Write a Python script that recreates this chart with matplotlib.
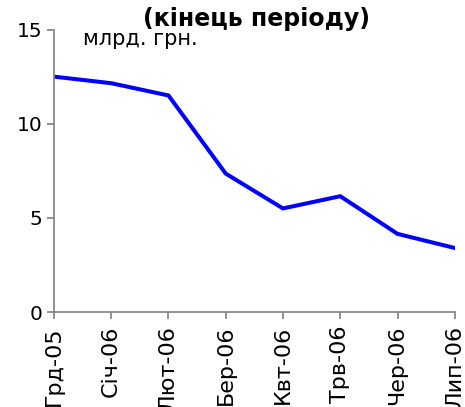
import matplotlib.pyplot as plt

# дані (кінець періоду), млрд. грн.
mitsyatsi = ["Грд-05", "Січ-06", "Лют-06", "Бер-06", "Квт-06", "Трв-06", "Чер-06", "Лип-06"]
znachennya = [12.5, 12.15, 11.5, 7.35, 5.5, 6.15, 4.15, 3.4]

plt.rcParams['font.family'] = ['DejaVu Sans']

fig = plt.figure(figsize=(4.65, 4.07), dpi=100)
ax = fig.add_axes([0.116, 0.2334, 0.862, 0.694])

x = list(range(len(mitsyatsi)))
ax.plot(x, znachennya, color="#0000FF", linewidth=2.9, solid_joinstyle="miter")

ax.set_xlim(0, len(mitsyatsi) - 1)
ax.set_ylim(0, 15)
ax.set_yticks([0, 5, 10, 15])
ax.set_xticks(x)
ax.set_xticklabels(mitsyatsi, rotation=90, va="top", ha="center")

for s in ["top", "right"]:
    ax.spines[s].set_visible(False)
for s in ["left", "bottom"]:
    ax.spines[s].set_color("#808080")
    ax.spines[s].set_linewidth(1.2)
ax.tick_params(axis="both", colors="#808080", labelcolor="black",
               length=5, width=1.2, labelsize=14.5, direction="out")
ax.tick_params(axis="x", pad=5, labelsize=16)

ax.text(0.072, 0.945, "млрд. грн.", transform=ax.transAxes, fontsize=15,
        va="baseline", ha="left")
fig.text(0.551, 0.935, "(кінець періоду)", fontsize=17, fontweight="bold",
         ha="center", va="baseline")

fig.savefig("out.png", dpi=100)
